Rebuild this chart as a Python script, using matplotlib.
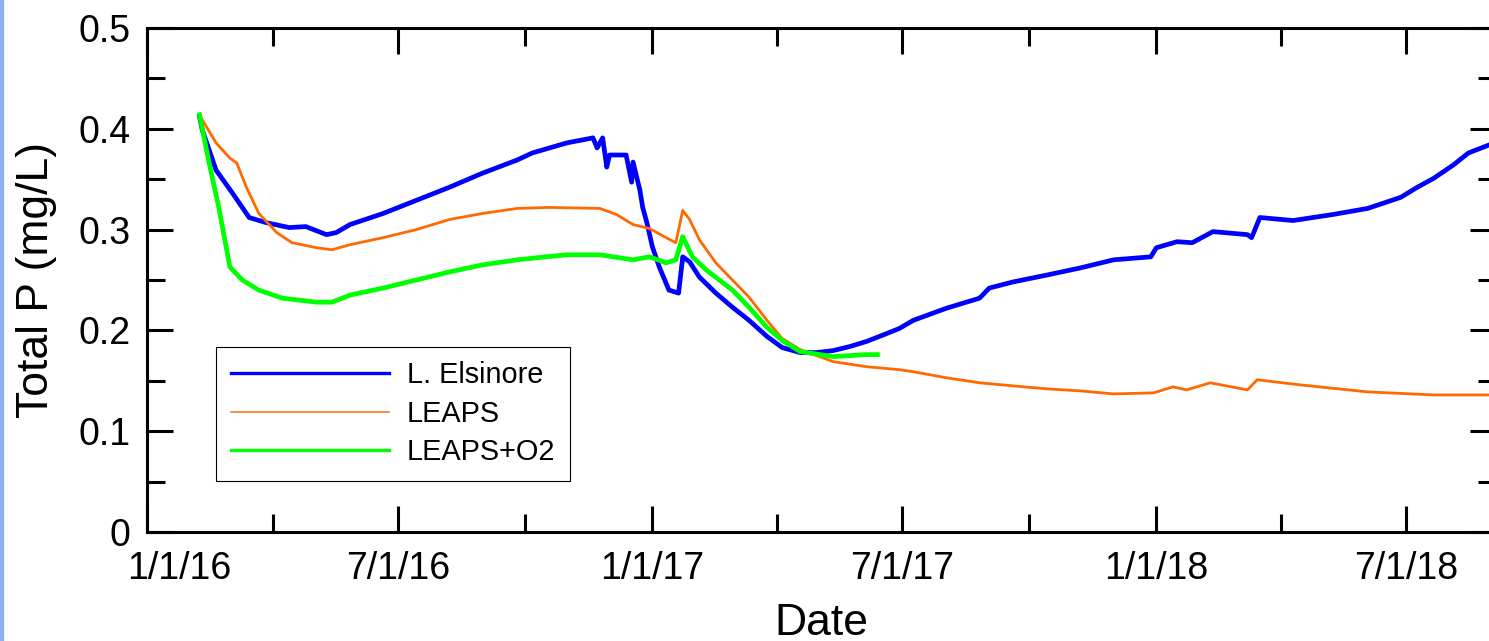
import matplotlib
matplotlib.use('Agg')
from matplotlib import pyplot as plt
from matplotlib.transforms import ScaledTranslation
from matplotlib.patches import Rectangle
import pandas as pd

plt.rcParams['font.family'] = ['Liberation Sans', 'DejaVu Sans']

# values
elsinore_dates = [
    '2016-02-08', '2016-02-10', '2016-02-20', '2016-03-03', '2016-03-15', '2016-03-27',
    '2016-04-13', '2016-04-25', '2016-05-10', '2016-05-17', '2016-05-27', '2016-06-20',
    '2016-07-14', '2016-08-07', '2016-08-31', '2016-09-25', '2016-10-06', '2016-10-31',
    '2016-11-19', '2016-11-22', '2016-11-26', '2016-11-29', '2016-12-01', '2016-12-13',
    '2016-12-17', '2016-12-18', '2016-12-23', '2016-12-25', '2016-12-28', '2017-01-01',
    '2017-01-06', '2017-01-13', '2017-01-20', '2017-01-23', '2017-01-28', '2017-02-04',
    '2017-02-16', '2017-02-28', '2017-03-12', '2017-03-25', '2017-04-05', '2017-04-18',
    '2017-04-30', '2017-05-12', '2017-05-24', '2017-06-05', '2017-06-20', '2017-06-29',
    '2017-07-09', '2017-08-02', '2017-08-26', '2017-09-02', '2017-09-19', '2017-10-14',
    '2017-11-07', '2017-12-01', '2017-12-28', '2018-01-01', '2018-01-16', '2018-01-27',
    '2018-02-11', '2018-03-08', '2018-03-11', '2018-03-17', '2018-04-10', '2018-05-09',
    '2018-06-03', '2018-06-27', '2018-07-09', '2018-07-21', '2018-08-04', '2018-08-15',
    '2018-08-30', '2018-09-05',
]
elsinore_tp = [
    0.412, 0.399, 0.359, 0.336, 0.312, 0.307,
    0.302, 0.303, 0.295, 0.297, 0.305, 0.316,
    0.329, 0.342, 0.356, 0.369, 0.376, 0.386,
    0.391, 0.381, 0.391, 0.362, 0.374, 0.374,
    0.347, 0.367, 0.339, 0.322, 0.307, 0.283,
    0.263, 0.240, 0.237, 0.273, 0.268, 0.253,
    0.237, 0.223, 0.210, 0.194, 0.183, 0.178,
    0.178, 0.180, 0.184, 0.189, 0.197, 0.202,
    0.210, 0.222, 0.232, 0.242, 0.248, 0.255,
    0.262, 0.270, 0.273, 0.282, 0.288, 0.287,
    0.298, 0.295, 0.292, 0.312, 0.309, 0.315,
    0.321, 0.332, 0.342, 0.351, 0.364, 0.376,
    0.384, 0.386,
]

leaps_dates = [
    '2016-02-08', '2016-02-10', '2016-02-20', '2016-03-01', '2016-03-06', '2016-03-13',
    '2016-03-22', '2016-04-04', '2016-04-15', '2016-05-03', '2016-05-14', '2016-05-27',
    '2016-06-20', '2016-07-14', '2016-08-07', '2016-08-31', '2016-09-25', '2016-10-18',
    '2016-11-24', '2016-12-06', '2016-12-18', '2016-12-30', '2017-01-11', '2017-01-18',
    '2017-01-23', '2017-01-28', '2017-02-04', '2017-02-16', '2017-02-28', '2017-03-12',
    '2017-03-25', '2017-04-05', '2017-04-18', '2017-05-12', '2017-06-05', '2017-06-29',
    '2017-07-09', '2017-08-02', '2017-08-26', '2017-09-19', '2017-10-14', '2017-11-07',
    '2017-12-01', '2017-12-30', '2018-01-13', '2018-01-23', '2018-02-09', '2018-03-08',
    '2018-03-15', '2018-04-15', '2018-06-03', '2018-07-21', '2018-08-30', '2018-09-05',
]
leaps_tp = [
    0.414, 0.409, 0.386, 0.371, 0.366, 0.342,
    0.316, 0.297, 0.287, 0.282, 0.280, 0.285,
    0.292, 0.300, 0.310, 0.316, 0.321, 0.322,
    0.321, 0.315, 0.305, 0.301, 0.292, 0.287,
    0.319, 0.310, 0.290, 0.267, 0.250, 0.233,
    0.210, 0.192, 0.181, 0.169, 0.164, 0.161,
    0.159, 0.153, 0.148, 0.145, 0.142, 0.140,
    0.137, 0.138, 0.144, 0.141, 0.148, 0.141,
    0.151, 0.146, 0.139, 0.136, 0.136, 0.136,
]

leaps_o2_dates = [
    '2016-02-08', '2016-02-15', '2016-02-22', '2016-03-01', '2016-03-10', '2016-03-22',
    '2016-04-08', '2016-05-03', '2016-05-14', '2016-05-27', '2016-06-20', '2016-07-14',
    '2016-08-07', '2016-08-31', '2016-09-25', '2016-10-16', '2016-10-31', '2016-11-24',
    '2016-12-18', '2016-12-30', '2017-01-11', '2017-01-18', '2017-01-23', '2017-01-30',
    '2017-02-09', '2017-02-28', '2017-03-12', '2017-03-25', '2017-04-05', '2017-04-18',
    '2017-05-12', '2017-06-05', '2017-06-13',
]
leaps_o2_tp = [
    0.414, 0.366, 0.322, 0.263, 0.250, 0.240,
    0.232, 0.228, 0.228, 0.235, 0.242, 0.250,
    0.258, 0.265, 0.270, 0.273, 0.275, 0.275,
    0.270, 0.273, 0.267, 0.270, 0.293, 0.273,
    0.260, 0.240, 0.223, 0.203, 0.190, 0.179,
    0.174, 0.176, 0.176,
]

major_dates = ['2016-01-01', '2016-07-01', '2017-01-01', '2017-07-01', '2018-01-01', '2018-07-01']
major_labels = ['1/1/16', '7/1/16', '1/1/17', '7/1/17', '1/1/18', '7/1/18']
minor_dates = ['2016-04-01', '2016-10-01', '2017-04-01', '2017-10-01', '2018-04-01']
y_ticks = [0, 0.1, 0.2, 0.3, 0.4, 0.5]
y_labels = ['0', '0.1', '0.2', '0.3', '0.4', '0.5']
y_minor = [0.05, 0.15, 0.25, 0.35, 0.45]


def main():
    W, H = 1489, 641
    fig = plt.figure(figsize=(W / 100, H / 100), dpi=100)
    ax = fig.add_axes([147 / W, (H - 532) / H, 1349 / W, 504 / H])

    ax.plot(pd.to_datetime(elsinore_dates), elsinore_tp, color='#0000ff', lw=3.4, label='L. Elsinore')
    ax.plot(pd.to_datetime(leaps_dates), leaps_tp, color='#ff6a00', lw=2.0, label='LEAPS')
    ax.plot(pd.to_datetime(leaps_o2_dates), leaps_o2_tp, color='#00ff00', lw=3.4, label='LEAPS+O2')

    ax.set_xlim(pd.Timestamp('2016-01-01'), pd.Timestamp('2018-09-04'))
    ax.set_ylim(0, 0.5)

    for s in ax.spines.values():
        s.set_linewidth(2.2)
    ax.tick_params(which='both', direction='in', top=True, right=True, width=2.2, labelsize=27)
    ax.tick_params(which='major', length=18.7)
    ax.tick_params(which='minor', length=13)
    ax.tick_params(axis='x', pad=14)
    ax.tick_params(axis='y', pad=12)

    ax.set_xticks(pd.to_datetime(major_dates), major_labels)
    ax.set_xticks(pd.to_datetime(minor_dates), minor=True)
    ax.set_yticks(y_ticks, y_labels)
    ax.set_yticks(y_minor, minor=True)

    # the first date label sits shifted to the right in the original
    lab = ax.get_xticklabels()[0]
    lab.set_transform(lab.get_transform() + ScaledTranslation(0.32, 0, fig.dpi_scale_trans))

    ax.set_xlabel('Date', fontsize=32, labelpad=11)
    ax.set_ylabel('Total P (mg/L)', fontsize=32, labelpad=15)

    leg = ax.legend(loc='upper left', bbox_to_anchor=(0.0512, 0.367), borderaxespad=0,
                    fontsize=20.8, fancybox=False, framealpha=1, edgecolor='black',
                    handlelength=5.5, handletextpad=0.6, borderpad=0.5, labelspacing=0.36)
    leg.get_frame().set_linewidth(0.8)
    for line, lw in zip(leg.get_lines(), [2.4, 1.1, 2.4]):
        line.set_linewidth(lw)

    # thin blue strip at the left edge of the original picture
    fig.patches.append(Rectangle((0, 0), 2.5 / W, 1, transform=fig.transFigure,
                                 color='#8cb0f0', zorder=10))

    fig.savefig('out.png', dpi=100)


main()
